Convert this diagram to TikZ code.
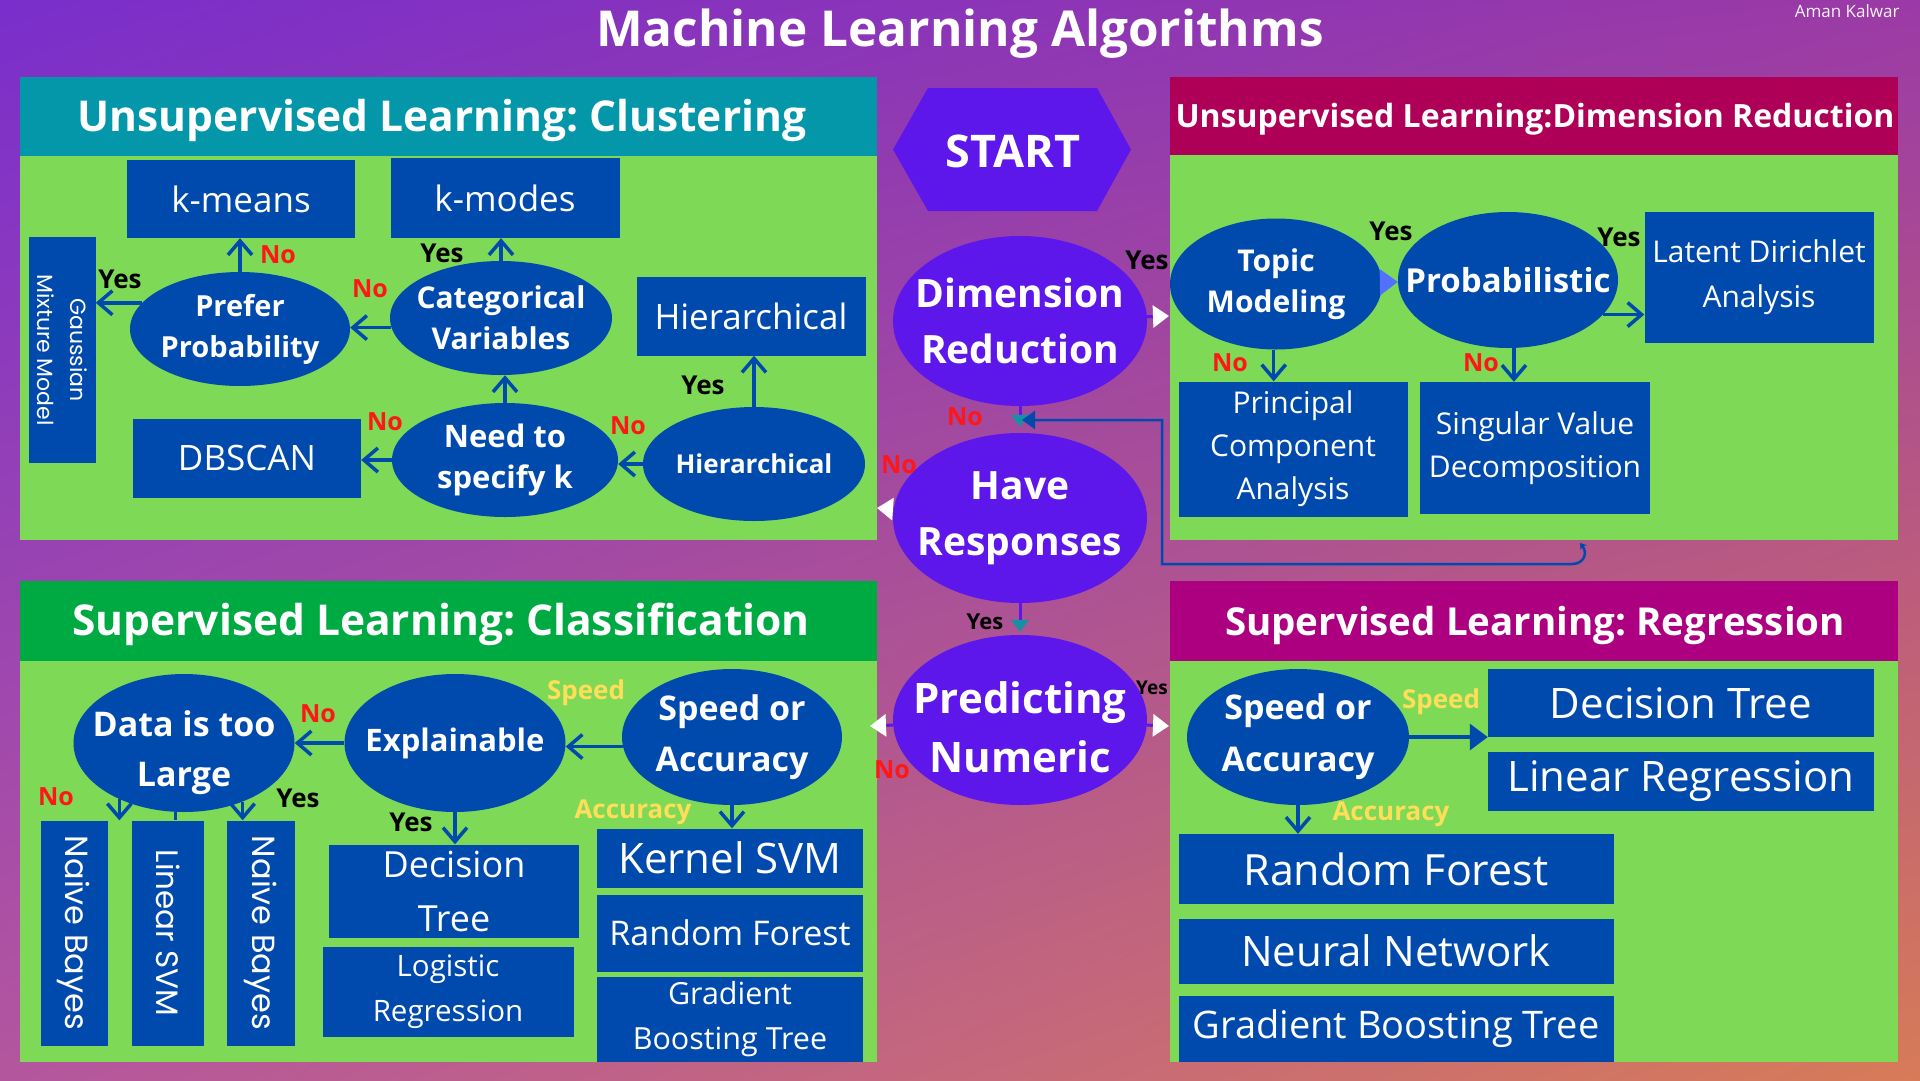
\documentclass[tikz,border=0pt]{standalone}
\usepackage{fontspec}
\setmainfont{Open Sans}
\newfontfamily\wideface{Poppins}
\usepackage{tikz}
\usetikzlibrary{shapes.geometric,shadings}
\usetikzlibrary{arrows.meta,calc}
\frenchspacing

\definecolor{bgul}{RGB}{122,46,203}
\definecolor{bgur}{RGB}{155,58,166}
\definecolor{bgll}{RGB}{180,86,158}
\definecolor{bglr}{RGB}{215,123,88}
\definecolor{panelgreen}{RGB}{126,217,87}
\definecolor{clusteal}{RGB}{4,151,170}
\definecolor{dimcrimson}{RGB}{173,0,86}
\definecolor{classgreen}{RGB}{0,170,66}
\definecolor{regmagenta}{RGB}{173,0,128}
\definecolor{boxblue}{RGB}{0,74,173}
\definecolor{mainpurple}{RGB}{94,23,235}
\definecolor{arrowteal}{RGB}{20,145,163}
\definecolor{tipblue}{RGB}{82,113,255}
\definecolor{nored}{RGB}{255,22,22}
\definecolor{pickyellow}{RGB}{255,222,89}
\newcommand{\fsz}[2]{\fontsize{#1}{#2}\selectfont}

\tikzset{
  algbox/.style={fill=boxblue, text=white, inner sep=0pt, align=center, font=\fsz{42}{48}},
  vbox/.style={algbox, rotate=-90, font=\wideface\fsz{32}{38}},
  quest/.style={ellipse, fill=boxblue, text=white, inner xsep=-35pt, inner ysep=-20pt, align=center},
  qtext/.style={text=white, inner sep=0pt, align=center},
  mainq/.style={ellipse, fill=mainpurple, text=white, inner xsep=-35pt, inner ysep=-20pt, align=center,
    minimum width=254pt, minimum height=170pt, font=\bfseries\fsz{39}{56}},
  head/.style={anchor=base, text=white, font=\bfseries\fsz{42.5}{50}},
  yeslab/.style={text=black, font=\bfseries\fsz{26}{30}},
  nolab/.style={text=nored, font=\bfseries\fsz{25}{30}},
  picklab/.style={text=pickyellow, font=\bfseries\fsz{26}{30}},
  flow/.style={draw=boxblue, line width=3.5pt, -{Straight Barb[length=14pt,width=24pt]}},
  wflow/.style={draw=mainpurple, line width=3pt, -{Triangle[length=16pt,width=22pt,color=white]}},
  tflow/.style={draw=mainpurple, line width=3pt, -{Triangle[length=12pt,width=17pt,color=arrowteal]}},
  backflow/.style={draw=boxblue, line width=2.5pt, {Stealth[length=6pt,width=8pt]}-{Triangle[length=13pt,width=18pt]}}
}

\begin{document}
\begin{tikzpicture}[x=1pt,y=-1pt]
  % Parameters
  \def\W{1920}        % picture width
  \def\H{1080}        % picture height
  \def\hb{79}         % header band height

  \useasboundingbox (0,0) rectangle (\W,\H);
  \shade[upper left=bgul, upper right=bgur, lower left=bgll, lower right=bglr] (0,0) rectangle (\W,\H);

  % Draw the four panels
  \fill[panelgreen] (20,77) rectangle (877,540);
  \fill[clusteal] (20,77) rectangle ++(857,\hb);
  \fill[panelgreen] (1170,77) rectangle (1898,540);
  \fill[dimcrimson] (1170,77) rectangle ++(728,78);
  \fill[panelgreen] (20,581) rectangle (877,1062);
  \fill[classgreen] (20,581) rectangle ++(857,80);
  \fill[panelgreen] (1170,581) rectangle (1898,1062);
  \fill[regmagenta] (1170,581) rectangle ++(728,80);

  \node[anchor=base, text=white, font=\bfseries\fsz{49.5}{56}] (title) at (960,46) {Machine Learning Algorithms};
  \node[anchor=base east, text=white!92!gray, font=\fsz{17}{20}] (author) at (1903,17) {Aman Kalwar};
  \node[head] (hclus) at (442,131) {Unsupervised Learning: Clustering};
  \node[head, font=\bfseries\fsz{32}{36}] (hdim) at (1535,127) {Unsupervised Learning:Dimension Reduction};
  \node[head] (hclass) at (441,635) {Supervised Learning: Classification};
  \node[head, font=\bfseries\fsz{38.5}{44}] (hreg) at (1535,635) {Supervised Learning: Regression};

  % Clustering
  \node[algbox, minimum width=228pt, minimum height=78pt, font=\fsz{35}{40}] (kmeans) at (241,199) {k-means};
  \node[algbox, minimum width=229pt, minimum height=80pt, font=\fsz{35}{40}] (kmodes) at (505,198) {k-modes};
  \node[vbox, minimum width=226pt, minimum height=67pt, font=\wideface\fsz{22}{33}] (gmm) at (62,350) {Gaussian\\Mixture Model};
  \node[quest, minimum width=220pt, minimum height=114pt, font=\bfseries\fsz{29}{41}] (prefprob) at (240,329) {Prefer\\Probability};
  \node[quest, minimum width=222pt, minimum height=114pt, font=\bfseries\fsz{30}{41}] (catvar) at (501,318) {Categorical\\Variables};
  \node[algbox, minimum width=229pt, minimum height=79pt, font=\fsz{35}{40}] (hierbox) at (751,316) {Hierarchical};
  \node[algbox, minimum width=228pt, minimum height=79pt, font=\fsz{35}{40}] (dbscan) at (247,458) {DBSCAN};
  \node[quest, minimum width=226pt, minimum height=114pt, font=\bfseries\fsz{31}{41}] (needk) at (505,460) {Need to\\specify k};
  \node[quest, minimum width=222pt, minimum height=114pt, font=\bfseries\fsz{26}{30}] (hierq) at (754,464) {Hierarchical};

  \draw[flow] (prefprob.north) -- (prefprob.north |- kmeans.south);
  \draw[flow] (prefprob.165) -- (prefprob.165 -| gmm.north);
  \draw[flow] (catvar.185) -- (catvar.185 -| prefprob.east);
  \draw[flow] (catvar.north) -- (catvar.north |- kmodes.south);
  \draw[flow] (needk.north) -- (needk.north |- catvar.south);
  \draw[flow] (needk.west) -- (needk.west -| dbscan.east);
  \draw[flow] (hierq.west) -- (hierq.west -| needk.east);
  \draw[flow] (hierq.north) -- (hierq.north |- hierbox.south);

  \node[nolab] (nokm) at (278,255) {No};
  \node[yeslab] (yesgmm) at (120,279) {Yes};
  \node[nolab] (nopp) at (370,289) {No};
  \node[yeslab] (yeskmo) at (442,253) {Yes};
  \node[nolab] (nodb) at (385,422) {No};
  \node[nolab] (nonk) at (628,426) {No};
  \node[yeslab] (yeshier) at (703,385) {Yes};

  % Dimension reduction
  \node[quest, minimum width=212pt, minimum height=131pt, font=\bfseries\fsz{30}{41}] (topic) at (1276,284) {Topic\\Modeling};
  \node[quest, minimum width=220pt, minimum height=136pt, font=\bfseries\fsz{33}{40}] (probab) at (1508,280) {Probabilistic};
  \node[algbox, minimum width=229pt, minimum height=131pt, font=\fsz{30}{45}] (lda) at (1759,277) {Latent Dirichlet\\Analysis};
  \node[algbox, minimum width=229pt, minimum height=135pt, font=\fsz{30}{43}] (pca) at (1293,449) {Principal\\Component\\Analysis};
  \node[algbox, minimum width=230pt, minimum height=132pt, font=\fsz{30}{43}] (svd) at (1535,448) {Singular Value\\Decomposition};

  \draw[draw=tipblue, line width=2pt, -{Triangle[length=18pt,width=26pt]}] (topic) -- (probab);
  \draw[flow] (probab.-20) -- (probab.-20 -| lda.west);
  \draw[flow] (topic.-92) -- (topic.-92 |- pca.north);
  \draw[flow] (probab.-85) -- (probab.-85 |- svd.north);

  \node[yeslab] (yestopic) at (1391,231) {Yes};
  \node[yeslab] (yeslda) at (1619,237) {Yes};
  \node[nolab] (nopca) at (1230,363) {No};
  \node[nolab] (nosvd) at (1481,363) {No};

  % Start and main questions
  \fill[mainpurple] (893,149.5) -- (928,88) -- (1097,88) -- (1131,149.5) -- (1097,211) -- (928,211) -- cycle;
  \node[text=white, font=\bfseries\fsz{45}{50}] (start) at (1013,151) {START};
  \node[mainq] (dimred) at (1020,321) {Dimension\\Reduction};
  \node[mainq] (haveresp) at (1020,518) {Have\\Responses};
  \node[mainq] (prednum) at (1020,720) {};
  \node[qtext, font=\bfseries\fsz{42}{59}] (prednumtext) at (1020,727) {Predicting\\Numeric};

  \coordinate (dimin) at (1169,316);
  \coordinate (clusin) at (877,508);
  \coordinate (classin) at (870,726);
  \coordinate (regin) at (1169,726);
  \coordinate (dimout) at (1580,543);
  \coordinate (backin) at (1022,420);

  \draw[wflow] (dimred) -- (dimin);
  \draw[tflow, shorten >=6pt] (dimred) -- (haveresp);
  \draw[backflow] (dimout) .. controls (1588,553) and (1584,564) .. (1572,564) -- (1162,564) -- (1162,420) -- (backin);
  \draw[wflow] (haveresp) -- (clusin);
  \draw[tflow, shorten >=3pt] (haveresp) -- (prednum);
  \draw[wflow] (prednum) -- (classin);
  \draw[wflow] (prednum) -- (regin);

  \node[yeslab] (yesdr) at (1147,260) {Yes};
  \node[nolab] (nodr) at (965,417) {No};
  \node[nolab] (nohr) at (899,465) {No};
  \node[yeslab, font=\bfseries\fsz{22}{26}] (yeshr) at (985,622) {Yes};
  \node[nolab] (nopn) at (892,770) {No};
  \node[yeslab, font=\bfseries\fsz{19}{22}] (yespn) at (1152,688) {Yes};

  % Classification
  \node[quest, minimum width=221pt, minimum height=138pt] (large) at (184,743) {};
  \node[qtext, font=\bfseries\fsz{34}{50}] (largetext) at (184,753) {Data is too\\Large};
  \node[quest, minimum width=221pt, minimum height=138pt, font=\bfseries\fsz{31}{40}] (explain) at (455,743) {Explainable};
  \node[quest, minimum width=220pt, minimum height=136pt, font=\bfseries\fsz{34}{51}] (speedc) at (732,737) {Speed or\\Accuracy};
  \node[vbox, minimum width=225pt, minimum height=67pt] (nbone) at (74,933) {Naive Bayes};
  \node[vbox, minimum width=225pt, minimum height=72pt, font=\wideface\fsz{31}{36}] (lsvm) at (168,933) {Linear SVM};
  \node[vbox, minimum width=225pt, minimum height=68pt] (nbtwo) at (261,933) {Naive Bayes};
  \node[algbox, minimum width=250pt, minimum height=93pt, font=\fsz{36}{54}] (dtc) at (454,891) {Decision\\Tree};
  \node[algbox, minimum width=251pt, minimum height=90pt, font=\fsz{29.5}{45}] (logreg) at (448,992) {Logistic\\Regression};
  \node[algbox, minimum width=266pt, minimum height=59pt] (ksvm) at (730,858) {Kernel SVM};
  \node[algbox, minimum width=266pt, minimum height=77pt, font=\fsz{34}{40}] (rfc) at (730,933) {Random Forest};
  \node[algbox, minimum width=266pt, minimum height=85pt, font=\fsz{30.5}{45}] (gbc) at (730,1019) {Gradient\\Boosting Tree};

  \draw[flow] (speedc.185) -- (speedc.185 -| explain.east);
  \draw[flow] (speedc.south) -- (speedc.south |- ksvm.north);
  \draw[flow] (explain.west) -- (explain.west -| large.east);
  \draw[flow] (explain.south) -- (explain.south |- dtc.north);
  \draw[flow] (large.221) -- (large.221 |- nbone.west);
  \draw[draw=boxblue, line width=3pt] (large.263) -- (large.263 |- lsvm.west);
  \draw[flow] (large.-45) -- (large.-45 |- nbtwo.west);

  \node[picklab] (speedlc) at (586,693) {Speed};
  \node[picklab] (acclc) at (633,812) {Accuracy};
  \node[nolab] (nolarge) at (318,714) {No};
  \node[yeslab] (yesdt) at (411,822) {Yes};
  \node[nolab] (nonb) at (56,797) {No};
  \node[yeslab] (yesnb) at (298,798) {Yes};

  % Regression
  \node[quest, minimum width=222pt, minimum height=136pt, font=\bfseries\fsz{34}{52}] (speedr) at (1298,737) {Speed or\\Accuracy};
  \node[algbox, minimum width=386pt, minimum height=68pt] (dtr) at (1681,703) {Decision Tree};
  \node[algbox, minimum width=386pt, minimum height=59pt] (linreg) at (1681,781) {Linear Regression};
  \node[algbox, minimum width=435pt, minimum height=70pt, font=\fsz{43}{48}] (rfr) at (1396,869) {Random Forest};
  \node[algbox, minimum width=435pt, minimum height=65pt] (nnet) at (1396,951) {Neural Network};
  \node[algbox, minimum width=435pt, minimum height=66pt, font=\fsz{38}{44}] (gbr) at (1396,1029) {Gradient Boosting Tree};

  \draw[draw=boxblue, line width=3.5pt, -{Triangle[length=18pt,width=26pt]}] (speedr.east) -- (speedr.east -| dtr.west);
  \draw[flow] (speedr.south) -- (speedr.south |- rfr.north);

  \node[picklab] (speedlr) at (1441,702) {Speed};
  \node[picklab] (acclr) at (1391,814) {Accuracy};

\end{tikzpicture}
\end{document}
